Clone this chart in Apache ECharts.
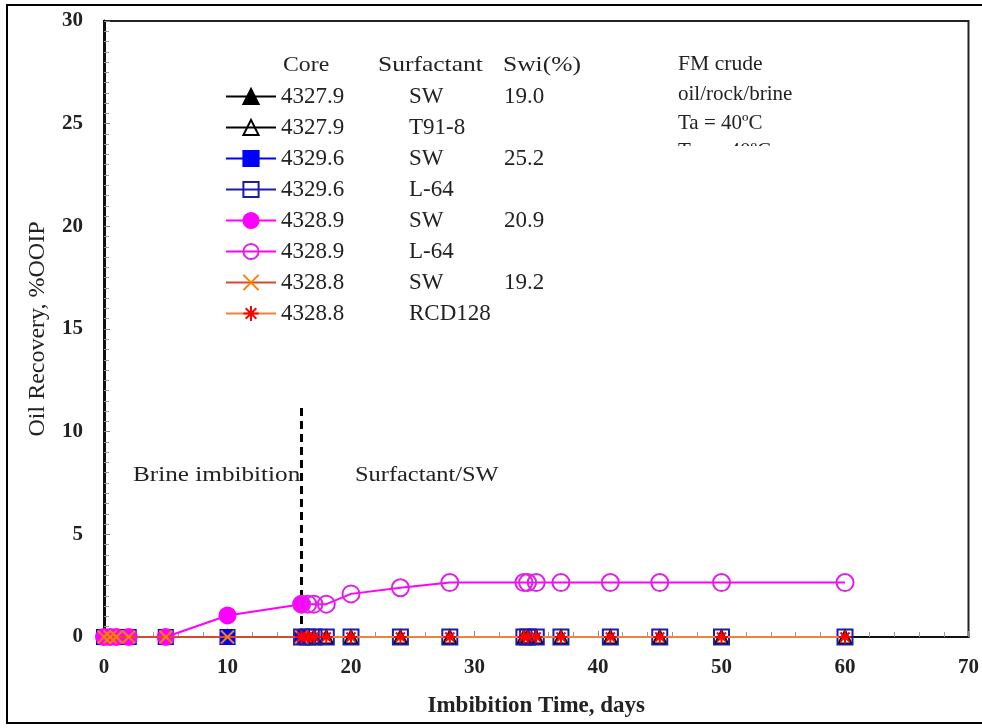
<!DOCTYPE html>
<html><head><meta charset="utf-8">
<script src="https://cdn.jsdelivr.net/npm/echarts@6/dist/echarts.min.js"></script>
<style>html,body{margin:0;padding:0;background:#fff}#c{width:982px;height:728px}</style>
</head><body><div id="c"></div>
<script>
// ---- data ----
const coreIds     = ['4327.9','4327.9','4329.6','4329.6','4328.9','4328.9','4328.8','4328.8'];
const surfactants = ['SW','T91-8','SW','L-64','SW','L-64','SW','RCD128'];
const swiValues   = ['19.0','','25.2','','20.9','','19.2',''];
const brineDays   = [0, 0.5, 1, 2, 5, 10, 16];
const surfDays    = [16, 16.5, 17, 18, 20, 24, 28, 34, 34.3, 35, 37, 41, 45, 50, 60];
const rec4327SW   = [0, 0, 0, 0, 0, 0, 0];
const rec4327T91  = [0, 0, 0, 0, 0, 0, 0, 0, 0, 0, 0, 0, 0, 0, 0];
const rec4329SW   = [0, 0, 0, 0, 0, 0, 0];
const rec4329L64  = [0, 0, 0, 0, 0, 0, 0, 0, 0, 0, 0, 0, 0, 0, 0];
const rec43289SW  = [0, 0, 0, 0, 0, 1.05, 1.6];
const rec43289L64 = [1.6, 1.6, 1.6, 1.6, 2.1, 2.4, 2.65, 2.65, 2.65, 2.65, 2.65, 2.65, 2.65, 2.65, 2.65];
const rec43288SW  = [0, 0, 0, 0, 0, 0, 0];
const rec43288RCD = [0, 0, 0, 0, 0, 0, 0, 0, 0, 0, 0, 0, 0, 0, 0];
const dividerDay  = 16;
const dividerTop  = 11.3;
const xTicks = [0, 70, 10];
const yTicks = [0, 30, 5];

const serif = 'Liberation Serif';
const pair = (xs, ys) => xs.map((x, i) => [x, ys[i]]);
const X_PATH = 'path://M0,0L10,10M10,0L0,10';
const STAR_PATH = 'path://M5,0L5,10M0,5L10,5M1.5,1.5L8.5,8.5M8.5,1.5L1.5,8.5';

const styles = [
  {symbol:'triangle', size:13, fill:'#000', border:'#000', line:'#000'},
  {symbol:'triangle', size:13, fill:'rgba(0,0,0,0)', border:'#000', line:'#000'},
  {symbol:'rect', size:14, fill:'#0000ff', border:'#0000ff', line:'#0000ff'},
  {symbol:'rect', size:15, fill:'rgba(0,0,0,0)', border:'#1c1ca8', line:'#1c1ca8'},
  {symbol:'circle', size:16, fill:'#ff00ff', border:'#ff00ff', line:'#ff00ff'},
  {symbol:'circle', size:17, fill:'rgba(0,0,0,0)', border:'#e020e8', line:'#ff00ff'},
  {symbol:X_PATH, size:13, fill:'#ff8000', border:'#ff8000', line:'#d84830'},
  {symbol:STAR_PATH, size:13, fill:'#ff0000', border:'#ff0000', line:'#f08040'}
];
const dataSets = [
  pair(brineDays, rec4327SW), pair(surfDays, rec4327T91),
  pair(brineDays, rec4329SW), pair(surfDays, rec4329L64),
  pair(brineDays, rec43289SW), pair(surfDays, rec43289L64),
  pair(brineDays, rec43288SW), pair(surfDays, rec43288RCD)
];
const names = coreIds.map((c, i) => c + ' ' + surfactants[i]);

const series = dataSets.map((d, i) => ({
  name: names[i], type: 'line', data: d,
  symbol: styles[i].symbol, symbolSize: styles[i].size, showAllSymbol: true,
  itemStyle: {color: styles[i].fill, borderColor: styles[i].border, borderWidth: 2},
  lineStyle: {color: styles[i].line, width: 2},
  emphasis: {disabled: true}, z: 3 + i
}));
series.push({
  type: 'line', data: [], silent: true,
  markLine: {
    silent: true, symbol: 'none', label: {show: false},
    lineStyle: {color: '#000', width: 3, type: [8, 5]},
    data: [[{coord: [dividerDay, 0]}, {coord: [dividerDay, dividerTop]}]]
  }
});

function txt(s, left, top, size, sx) {
  return {type: 'text', x: left, y: top, scaleX: sx || 1,
    style: {text: s, font: size + 'px "Liberation Serif"', fill: '#222'}};
}

const chart = echarts.init(document.getElementById('c'));
chart.setOption({
  animation: false,
  backgroundColor: '#fff',
  grid: {left: 104, right: 4, top: 21, bottom: 91, show: true, borderColor: '#222', borderWidth: 2},
  xAxis: {
    type: 'value', min: xTicks[0], max: xTicks[1], interval: xTicks[2],
    name: 'Imbibition Time, days', nameLocation: 'middle', nameGap: 58,
    nameTextStyle: {fontFamily: serif, fontSize: 23, fontWeight: 'bold', color: '#222'},
    axisLine: {onZero: false, lineStyle: {color: '#111', width: 2}},
    axisTick: {inside: true, length: 6, lineStyle: {color: '#888'}},
    minorTick: {show: true, splitNumber: 5, length: 5, lineStyle: {color: '#999'}},
    splitLine: {show: false},
    axisLabel: {margin: 20, fontFamily: serif, fontSize: 21, fontWeight: 'bold', color: '#222'}
  },
  yAxis: {
    type: 'value', min: yTicks[0], max: yTicks[1], interval: yTicks[2],
    name: 'Oil Recovery, %OOIP', nameLocation: 'middle', nameGap: 54,
    nameTextStyle: {fontFamily: serif, fontSize: 24, color: '#222'},
    axisLine: {lineStyle: {color: '#111', width: 3}},
    axisTick: {inside: true, length: 6, lineStyle: {color: '#888'}},
    minorTick: {show: true, splitNumber: 10, length: 5, lineStyle: {color: '#999'}},
    splitLine: {show: false},
    axisLabel: {margin: 21, fontFamily: serif, fontSize: 21, fontWeight: 'bold', color: '#222'}
  },
  legend: {
    data: names, orient: 'vertical', left: 225, top: 85, padding: 0,
    itemWidth: 50, itemHeight: 19, itemGap: 8, selectedMode: false,
    textStyle: {fontFamily: serif, fontSize: 23, color: '#222', lineHeight: 22,
      rich: {
        a: {width: 128, fontFamily: serif, fontSize: 23, color: '#222'},
        b: {width: 95, fontFamily: serif, fontSize: 23, color: '#222'},
        c: {fontFamily: serif, fontSize: 23, color: '#222'}
      }},
    formatter: function (n) {
      const i = names.indexOf(n);
      return '{a|' + coreIds[i] + '}{b|' + surfactants[i] + '}{c|' + (swiValues[i] || ' ') + '}';
    }
  },
  graphic: [
    {type: 'rect', shape: {x: 7, y: 5, width: 990, height: 718}, style: {fill: 'none', stroke: '#000', lineWidth: 2}, silent: true},
    txt('Core', 283, 54, 22, 1.08),
    txt('Surfactant', 378, 54, 22, 1.16),
    txt('Swi(%)', 503, 54, 22, 1.16),
    txt('FM crude', 678, 54, 21, 1.03),
    txt('oil/rock/brine', 678, 84, 21, 1.0),
    txt('Ta = 40ºC', 678, 113, 21, 1.0),
    txt('Tm = 40ºC', 678, 141, 21, 1.0),
    {type: 'rect', shape: {x: 670, y: 146, width: 140, height: 24}, style: {fill: '#fff'}, z: 100},
    txt('Brine imbibition', 133, 466, 20, 1.26),
    txt('Surfactant/SW', 355, 466, 20, 1.22)
  ],
  series: series
});
</script></body></html>
